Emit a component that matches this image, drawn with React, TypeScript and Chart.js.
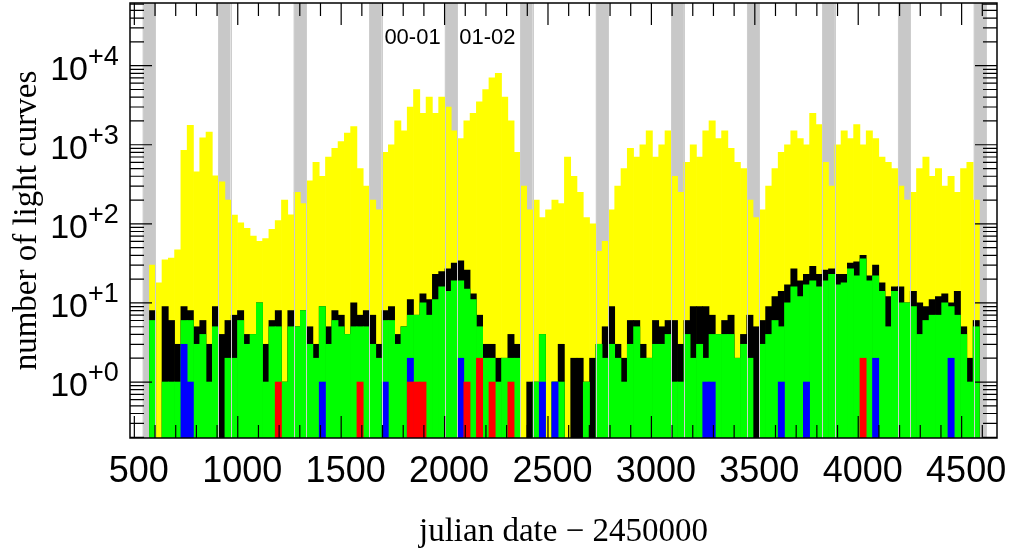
import React, { useEffect, useRef } from "react";
import { Chart, registerables } from "chart.js";
Chart.register(...registerables);

// Monthly bins (julian date - 2450000)
const binStart = 573;
const binWidth = 30.4;

// total light curves per bin (yellow)
const totalCounts = [
  30, 18, 35, 37, 47, 850, 1760, 456, 1220, 1450, 405, 340, 200, 129, 103, 88,
  70, 60, 65, 85, 110, 200, 130, 250, 180, 350, 600, 400, 700, 900, 1100, 1400,
  1700, 500, 300, 200, 150, 800, 1000, 2000, 1500, 3000, 5000, 2500, 4000, 2500, 4000, 3000,
  1500, 1200, 2000, 2500, 3500, 5000, 7000, 8000, 4000, 2000, 800, 300, 150, 200,
  120, 150, 200, 180, 700, 400, 250, 120, 100, 45, 60, 150, 300, 500, 900, 700,
  1000, 1500, 700, 1000, 1500, 400, 250, 600, 1000, 700, 1500, 2000, 1200, 1500, 900, 600,
  500, 200, 120, 150, 300, 500, 800, 1000, 1500, 1200, 1000, 2500, 1800, 600, 300, 1000,
  1500, 1200, 1800, 1000, 1500, 1200, 700, 600, 500, 300, 200, 250, 500, 700, 400, 500,
  300, 400, 250, 500, 600, 200,
];
// black
const blackCounts = [
  8, 0, 9, 6, 3, 9, 8, 5, 6, 3, 9, 4, 6, 7, 8, 4,
  4, 10, 3, 6, 8, 1, 8, 5, 8, 5, 3, 9, 5, 8, 7, 4,
  10, 7, 8, 7, 3, 8, 9, 4, 5, 11, 7, 13, 11, 23, 25, 27,
  32, 34, 26, 13, 7, 3, 3, 2, 2, 4, 3, 0, 1, 1,
  4, 0, 1, 3, 0, 2, 2, 1, 2, 3, 5, 9, 3, 2, 6, 6,
  3, 2, 6, 5, 6, 6, 3, 6, 9, 9, 9, 7, 4, 6, 7, 2,
  4, 7, 5, 6, 9, 12, 14, 17, 27, 19, 23, 29, 23, 26, 27, 23,
  23, 32, 33, 40, 22, 30, 18, 12, 16, 16, 10, 14, 10, 9, 11, 12,
  13, 10, 14, 5, 2, 6,
];
// green
const greenCounts = [
  6, 0, 1, 1, 1, 6, 6, 3, 4, 1, 5, 0, 2, 2, 6, 3,
  4, 10, 1, 5, 5, 1, 5, 5, 8, 3, 2, 9, 3, 6, 5, 4,
  5, 5, 5, 3, 2, 6, 6, 3, 5, 7, 7, 10, 7, 11, 16, 14,
  19, 19, 15, 11, 5, 2, 2, 1, 2, 2, 2, 0, 0, 1,
  4, 0, 1, 1, 0, 0, 0, 1, 0, 3, 2, 3, 2, 1, 3, 5,
  2, 2, 3, 3, 4, 1, 1, 4, 2, 3, 2, 4, 4, 4, 4, 2,
  3, 2, 0, 3, 4, 6, 5, 10, 16, 12, 17, 19, 16, 19, 23, 17,
  18, 27, 22, 36, 19, 22, 14, 5, 14, 10, 10, 9, 4, 6, 7, 7,
  10, 9, 7, 4, 1, 5,
];
// blue
const blueCounts = [
  0, 0, 0, 0, 0, 3, 1, 0, 0, 0, 0, 0, 0, 0, 0, 0,
  0, 0, 0, 0, 0, 0, 0, 0, 0, 0, 0, 1, 0, 0, 0, 0,
  0, 0, 0, 0, 0, 1, 0, 0, 0, 2, 0, 0, 0, 0, 0, 0,
  0, 2, 0, 0, 0, 0, 0, 0, 0, 0, 0, 0, 0, 0,
  1, 0, 1, 0, 0, 0, 0, 0, 0, 0, 0, 0, 0, 0, 0, 0,
  0, 0, 0, 0, 0, 0, 0, 0, 0, 0, 1, 1, 0, 0, 0, 0,
  0, 0, 0, 0, 0, 0, 1, 0, 0, 0, 1, 0, 0, 0, 0, 0,
  0, 0, 0, 0, 0, 2, 0, 0, 0, 0, 0, 0, 0, 0, 0, 0,
  0, 2, 0, 0, 0, 0,
];
// red
const redCounts = [
  0, 0, 0, 0, 0, 0, 0, 0, 0, 0, 0, 0, 0, 0, 0, 0,
  0, 0, 0, 0, 1, 0, 0, 0, 0, 0, 0, 0, 0, 0, 0, 0,
  0, 1, 0, 0, 0, 0, 0, 0, 0, 1, 1, 1, 0, 0, 0, 0,
  0, 0, 1, 0, 2, 0, 1, 0, 0, 1, 0, 0, 0, 0,
  0, 0, 0, 0, 0, 0, 0, 0, 0, 0, 0, 0, 0, 0, 0, 0,
  0, 0, 0, 0, 0, 0, 0, 0, 0, 0, 0, 0, 0, 0, 0, 0,
  0, 0, 0, 0, 0, 0, 0, 0, 0, 0, 0, 0, 0, 0, 0, 0,
  0, 0, 0, 2, 0, 0, 0, 0, 0, 0, 0, 0, 0, 0, 0, 0,
  0, 0, 0, 0, 0, 0,
];

// seasonal gaps (gray bands)
const seasonGapStarts = [540, 905, 1270, 1636, 2001, 2366, 2731, 3097, 3462, 3827, 4192, 4558];
const seasonGapLength = 60;

const xMajorTicks = [500, 1000, 1500, 2000, 2500, 3000, 3500, 4000, 4500];
const xTickLabels = ["500", "1000", "1500", "2000", "2500", "3000", "3500", "4000", "4500"];
const yMajorExponents = [0, 1, 2, 3, 4];
const yTickLabels = ["+0", "+1", "+2", "+3", "+4"];

const seasonLabels = ["00-01", "01-02"];
const seasonLabelX = [1845, 2207];
const seasonLabelY = 18600;

const xMin = 479;
const xMax = 4671;
const yMin = 0.196;
const yMax = 62000;

const SANS = '"Liberation Sans", Arial, Helvetica, sans-serif';
const SERIF = '"Liberation Serif", "Times New Roman", serif';

const binCenters = totalCounts.map((_, i) => binStart + binWidth * (i + 0.5));
const toPoints = (arr: number[]) =>
  arr.map((v, i) => ({ x: binCenters[i], y: v > 0 ? v : null }));

const overlayPlugin = {
  id: "overlay",
  beforeDatasetsDraw(chart: any) {
    const { ctx, chartArea: a, scales } = chart;
    const x = scales.x;
    ctx.save();
    ctx.fillStyle = "#c8c8c8";
    seasonGapStarts.forEach((s) => {
      const l = Math.max(x.getPixelForValue(s), a.left);
      const r = Math.min(x.getPixelForValue(s + seasonGapLength), a.right);
      if (r > l) ctx.fillRect(l, a.top, r - l, a.bottom - a.top);
    });
    ctx.restore();
  },
  afterDatasetsDraw(chart: any) {
    const { ctx, chartArea: a, scales } = chart;
    const x = scales.x;
    const y = scales.y;
    ctx.save();
    ctx.strokeStyle = "#cdcdcd";
    ctx.lineWidth = 1;
    seasonGapStarts.forEach((s) => {
      [s, s + seasonGapLength].forEach((v) => {
        const px = Math.round(x.getPixelForValue(v)) + 0.5;
        if (px > a.left && px < a.right) {
          ctx.beginPath();
          ctx.moveTo(px, a.top);
          ctx.lineTo(px, a.bottom);
          ctx.stroke();
        }
      });
    });
    ctx.strokeStyle = "#000";
    ctx.lineWidth = 1.2;
    const vtick = (v: number, len: number) => {
      const px = x.getPixelForValue(v);
      if (px < a.left || px > a.right) return;
      ctx.beginPath();
      ctx.moveTo(px, a.bottom);
      ctx.lineTo(px, a.bottom - len);
      ctx.moveTo(px, a.top);
      ctx.lineTo(px, a.top + len);
      ctx.stroke();
    };
    for (let v = 100; v <= 4700; v += 100) {
      if (v % 500 === 0) vtick(v, 22);
      else vtick(v, 13);
    }
    const htick = (v: number, len: number) => {
      const py = y.getPixelForValue(v);
      if (py < a.top - 0.5 || py > a.bottom + 0.5) return;
      ctx.beginPath();
      ctx.moveTo(a.left, py);
      ctx.lineTo(a.left + len, py);
      ctx.moveTo(a.right, py);
      ctx.lineTo(a.right - len, py);
      ctx.stroke();
    };
    for (let e = -1; e <= 4; e++) {
      for (let m = 1; m <= 9; m++) {
        const v = m * Math.pow(10, e);
        htick(v, m === 1 ? 22 : 14);
      }
    }
    ctx.lineWidth = 1.5;
    ctx.strokeRect(a.left, a.top, a.right - a.left, a.bottom - a.top);
    ctx.restore();
  },
  afterDraw(chart: any) {
    const { ctx, chartArea: a, scales } = chart;
    const x = scales.x;
    const y = scales.y;
    ctx.save();
    ctx.fillStyle = "#000";
    ctx.font = `36px ${SANS}`;
    ctx.textAlign = "center";
    ctx.textBaseline = "alphabetic";
    xMajorTicks.forEach((v, i) => {
      ctx.fillText(xTickLabels[i], x.getPixelForValue(v) + 4.5, 481.5);
    });
    yMajorExponents.forEach((e, i) => {
      const py = y.getPixelForValue(Math.pow(10, e));
      ctx.font = `34px ${SANS}`;
      ctx.textAlign = "right";
      ctx.fillText("10", 88, py + 14);
      ctx.font = `27px ${SANS}`;
      ctx.textAlign = "left";
      ctx.fillText(yTickLabels[i], 88, py - 1);
    });
    ctx.font = `22px ${SANS}`;
    ctx.textAlign = "center";
    seasonLabels.forEach((t, i) => {
      ctx.fillText(t, x.getPixelForValue(seasonLabelX[i]), y.getPixelForValue(seasonLabelY));
    });
    ctx.font = `33px ${SERIF}`;
    ctx.textAlign = "center";
    ctx.fillText("julian date \u2212 2450000", (a.left + a.right) / 2, 541);
    ctx.save();
    ctx.translate(36, (a.top + a.bottom) / 2);
    ctx.rotate(-Math.PI / 2);
    ctx.fillText("number of light curves", 0, 0);
    ctx.restore();
    ctx.restore();
  },
};

export default function App() {
  const ref = useRef<HTMLCanvasElement>(null);
  useEffect(() => {
    if (!ref.current) return;
    const mk = (label: string, data: number[], color: string, order: number) => ({
      label,
      data: toPoints(data),
      backgroundColor: color,
      borderWidth: 0,
      grouped: false,
      barPercentage: 1,
      categoryPercentage: 1,
      order,
    });
    const chart = new Chart(ref.current, {
      type: "bar",
      data: {
        datasets: [
          mk("all", totalCounts, "#ffff00", 5),
          mk("black", blackCounts, "#000000", 4),
          mk("green", greenCounts, "#00ff00", 3),
          mk("blue", blueCounts, "#0000ff", 2),
          mk("red", redCounts, "#ff0000", 1),
        ] as any,
      },
      options: {
        responsive: false,
        maintainAspectRatio: false,
        devicePixelRatio: 1,
        animation: false,
        layout: { padding: { left: 130, right: 15, top: 3, bottom: 114 } },
        plugins: { legend: { display: false }, tooltip: { enabled: false }, title: { display: false } },
        scales: {
          x: { type: "linear", min: xMin, max: xMax, offset: false, display: false },
          y: { type: "logarithmic", min: yMin, max: yMax, display: false },
        },
      } as any,
      plugins: [overlayPlugin],
    });
    return () => chart.destroy();
  }, []);
  return (
    <div style={{ position: "fixed", left: 0, top: 0, width: 1012, height: 552, background: "#fff" }}>
      <canvas ref={ref} width={1012} height={552} style={{ width: 1012, height: 552 }} />
    </div>
  );
}
